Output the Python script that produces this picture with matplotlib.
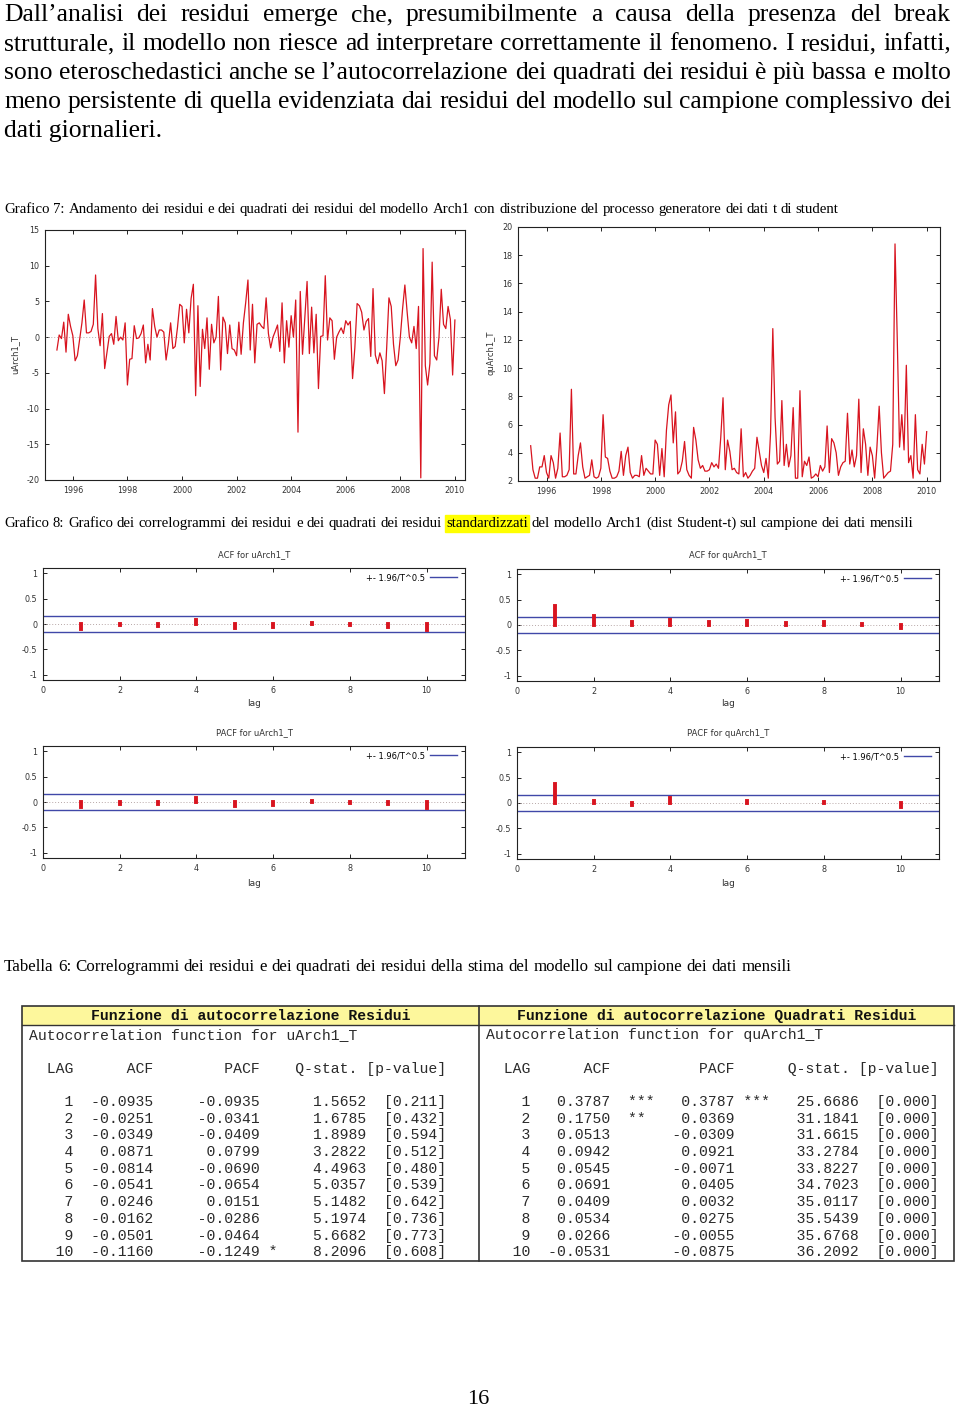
import numpy as np
import matplotlib
matplotlib.use("Agg")
import matplotlib.pyplot as plt
from matplotlib.patches import Rectangle

plt.rcParams["axes.unicode_minus"] = False

# ---- data ----
paragraph = [
    "Dall’analisi dei residui emerge che, presumibilmente a causa della presenza del break",
    "strutturale, il modello non riesce ad interpretare correttamente il fenomeno. I residui, infatti,",
    "sono eteroschedastici anche se l’autocorrelazione dei quadrati dei residui è più bassa e molto",
    "meno persistente di quella evidenziata dai residui del modello sul campione complessivo dei",
    "dati giornalieri.",
]
caption7 = ("Grafico 7: Andamento dei residui e dei quadrati dei residui del modello Arch1 con "
            "distribuzione del processo generatore dei dati t di student")
caption8 = ("Grafico 8: Grafico dei correlogrammi dei residui e dei quadrati dei residui standardizzati "
            "del modello Arch1 (dist Student-t) sul campione dei dati mensili")
caption_tab = ("Tabella 6: Correlogrammi dei residui e dei quadrati dei residui della stima del modello "
               "sul campione dei dati mensili")

# monthly residuals, first obs 1995:06
start_year = 1995 + 5 / 12
u_arch = [
    -1.8, 0.3, -0.2, 2.1, -2.1, 3.2, 1.5, 0.2, -3.3, -2.6, -0.3, 2.0,
    5.2, 0.6, 0.6, 0.8, 1.8, 8.7, 1.2, -1.2, 3.3, -4.4, -2.2, 0.1,
    0.5, -1.0, 2.9, -0.5, 0.0, -0.4, 2.0, -6.7, -3.1, -3.0, 1.6, -0.2,
    -0.1, 0.5, 1.7, -3.6, -1.0, -3.2, 4.0, 1.5, 0.0, 1.0, 1.0, 0.7,
    -3.2, -1.0, 2.0, -1.6, -1.3, 1.3, 4.6, 4.3, -0.8, 3.9, 0.6, 5.4,
    7.4, -8.2, 4.4, -6.9, 1.1, -1.6, 2.7, -4.5, 1.8, -0.8, 0.0, 5.7,
    -4.6, 2.8, 2.0, -2.3, 1.7, -1.6, -1.8, -2.6, 2.1, -2.4, 2.0, 4.8,
    8.0, -1.8, 4.6, -3.6, 1.8, 2.0, 1.5, 1.2, 5.5, 0.5, -1.5, 0.0,
    0.8, 1.7, -2.0, 4.8, -3.6, 2.3, -1.4, 3.0, 0.0, 5.2, -13.3, 6.4,
    -2.4, 2.7, 7.8, -2.3, 4.2, -2.2, 3.2, -7.2, 0.1, 0.2, 8.6, -0.4,
    2.7, 2.3, -3.1, 0.0, 0.7, 1.3, 0.5, 2.3, 1.7, 2.2, -5.8, -1.5,
    4.7, 4.4, 3.5, 1.0, 2.2, 2.6, -2.7, 6.8, -2.5, -3.7, -2.2, -3.3,
    -7.9, -1.5, 5.5, 4.3, -1.0, -4.0, -3.2, 0.0, 4.0, 7.3, 3.5, 0.0,
    -0.8, 1.5, -1.6, 4.3, -19.7, 12.4, -4.0, -6.7, -3.7, 10.5, -2.6, -3.2,
    0.0, 6.7, 1.8, 1.2, 4.3, 2.5, -5.3, 2.4,
]
qu_arch = [
    4.5, 2.8, 2.2, 2.2, 3.0, 3.0, 3.8, 2.6, 2.2, 3.8, 3.3, 2.2,
    2.9, 5.4, 2.3, 2.3, 2.4, 2.8, 8.5, 2.5, 2.5, 3.8, 4.7, 3.0,
    2.2, 2.3, 2.4, 3.5, 2.3, 2.2, 2.3, 2.9, 6.7, 3.7, 3.6, 2.7,
    2.2, 2.2, 2.3, 2.7, 4.1, 2.4, 3.8, 4.4, 2.6, 2.2, 2.4, 2.4,
    2.3, 3.8, 2.4, 2.9, 2.7, 2.5, 2.5, 4.9, 4.6, 2.4, 4.3, 2.3,
    5.6, 7.4, 8.1, 4.7, 6.9, 2.5, 2.7, 3.4, 4.8, 2.8, 2.4, 2.2,
    5.8, 4.9, 3.5, 2.9, 3.1, 2.7, 2.7, 2.8, 3.3, 3.0, 3.2, 2.9,
    5.1, 7.9, 2.8, 4.9, 4.1, 2.8, 2.9, 2.6, 2.5, 5.7, 2.3, 2.6,
    2.2, 2.4, 2.7, 2.9, 5.1, 4.1, 3.1, 2.6, 3.6, 2.2, 5.4, 12.8,
    6.5, 3.2, 3.4, 7.7, 3.1, 4.6, 3.0, 3.8, 7.2, 2.2, 2.2, 8.4,
    2.3, 3.4, 3.1, 3.7, 2.2, 2.3, 2.5, 2.3, 3.1, 2.7, 3.0, 5.9,
    2.6, 5.0, 4.7, 4.0, 2.4, 3.0, 3.3, 3.4, 6.8, 3.2, 4.2, 3.0,
    3.8, 7.8, 2.6, 5.7, 4.6, 2.4, 4.4, 3.8, 2.2, 4.4, 7.3, 4.0,
    2.2, 2.4, 2.6, 2.7, 4.6, 18.8, 12.0, 4.4, 6.7, 4.2, 10.2, 3.3,
    3.8, 2.2, 6.7, 2.8, 2.5, 4.6, 3.2, 5.5,
]
T_OBS = 176

lags = list(range(1, 11))
acf_u = [-0.0935, -0.0251, -0.0349, 0.0871, -0.0814, -0.0541, 0.0246, -0.0162, -0.0501, -0.1160]
pacf_u = [-0.0935, -0.0341, -0.0409, 0.0799, -0.0690, -0.0654, 0.0151, -0.0286, -0.0464, -0.1249]
qstat_u = [1.5652, 1.6785, 1.8989, 3.2822, 4.4963, 5.0357, 5.1482, 5.1974, 5.6682, 8.2096]
pval_u = [0.211, 0.432, 0.594, 0.512, 0.480, 0.539, 0.642, 0.736, 0.773, 0.608]
stars_acf_u = [""] * 10
stars_pacf_u = ["", "", "", "", "", "", "", "", "", "*"]

acf_q = [0.3787, 0.1750, 0.0513, 0.0942, 0.0545, 0.0691, 0.0409, 0.0534, 0.0266, -0.0531]
pacf_q = [0.3787, 0.0369, -0.0309, 0.0921, -0.0071, 0.0405, 0.0032, 0.0275, -0.0055, -0.0875]
qstat_q = [25.6686, 31.1841, 31.6615, 33.2784, 33.8227, 34.7023, 35.0117, 35.5439, 35.6768, 36.2092]
pval_q = [0.000, 0.000, 0.000, 0.000, 0.000, 0.000, 0.000, 0.000, 0.000, 0.000]
stars_acf_q = ["***", "**", "", "", "", "", "", "", "", ""]
stars_pacf_q = ["***", "", "", "", "", "", "", "", "", ""]

RED = "#d8141f"
BLUE = "#4048a8"
W, H = 960, 1409

fig = plt.figure(figsize=(W / 100, H / 100), dpi=100)
page = fig.add_axes([0, 0, 1, 1])
page.set_xlim(0, W)
page.set_ylim(H, 0)
page.axis("off")
renderer = fig.canvas.get_renderer()

SERIF = "Liberation Serif"
MONO = "Liberation Mono"
SANS = "DejaVu Sans"


def width_of(s, **kw):
    t = page.text(0, 0, s, **kw)
    w = t.get_window_extent(renderer).width
    t.remove()
    return w


def fit_size(s, target, family=SERIF):
    return 10 * target / width_of(s, fontsize=10, family=family)


def place_words(words, y, x0, x1=None, highlight=(), **kw):
    ws = [width_of(w, **kw) for w in words]
    if x1 is None:
        gap = width_of("a a", **kw) - width_of("aa", **kw)
    else:
        gap = (x1 - x0 - sum(ws)) / (len(words) - 1)
    x = x0
    for w, wd in zip(words, ws):
        if w in highlight:
            page.add_patch(Rectangle((x - 1, y - 12), wd + 2, 17, color="#ffff00", zorder=0))
        page.text(x, y, w, va="baseline", **kw)
        x += wd + gap


# ---- paragraph ----
p_size = fit_size(paragraph[-1], 158)
for i, line in enumerate(paragraph):
    y = 21 + 29 * i
    if i < len(paragraph) - 1:
        place_words(line.split(), y, 4, 951, fontsize=p_size, family=SERIF)
    else:
        page.text(4, y, line, va="baseline", fontsize=p_size, family=SERIF)

# ---- captions ----
c7 = fit_size(caption7, 831)
place_words(caption7.split(), 213, 4, fontsize=c7, family=SERIF)
c8 = fit_size(caption8, 909)
place_words(caption8.split(), 527, 4, highlight=("standardizzati",), fontsize=c8, family=SERIF)
ct = fit_size(caption_tab, 785)
place_words(caption_tab.split(), 971, 4, fontsize=ct, family=SERIF)
page.text(478, 1399, "16", ha="center", va="center", fontsize=16, family=SERIF)


def px_axes(x0, y0, x1, y1):
    return fig.add_axes([x0 / W, 1 - y1 / H, (x1 - x0) / W, (y1 - y0) / H])


def style(ax):
    ax.tick_params(direction="in", top=True, right=True, length=3, width=0.6,
                   labelsize=5.8, labelcolor="#333333", pad=4)
    for s in ax.spines.values():
        s.set_linewidth(0.8)
        s.set_color("#222222")
    for lab in ax.get_xticklabels() + ax.get_yticklabels():
        lab.set_family(SANS)


# ---- time series ----
x_month = start_year + np.arange(len(u_arch)) / 12

ax = px_axes(45, 230, 465, 480)
ax.axhline(0, color="#b8b0b0", ls=(0, (1, 2)), lw=0.7)
ax.plot(x_month, u_arch, color=RED, lw=0.9)
ax.set_xlim(1994.98, 2010.37)
ax.set_ylim(-20, 15)
ax.set_xticks(range(1996, 2011, 2))
ax.set_yticks(range(-20, 16, 5))
style(ax)
page.text(15, 355, "uArch1_T", rotation=90, ha="center", va="center", fontsize=6, family=SANS, color="#333333")

ax = px_axes(518, 227, 940, 481)
ax.plot(x_month, qu_arch, color=RED, lw=0.9)
ax.set_xlim(1994.95, 2010.49)
ax.set_ylim(2, 20)
ax.set_xticks(range(1996, 2011, 2))
ax.set_yticks(range(2, 21, 2))
style(ax)
page.text(491, 353, "quArch1_T", rotation=90, ha="center", va="center", fontsize=6, family=SANS, color="#333333")


# ---- correlograms ----
def corr_panel(box, title, vals, title_y, lag_y):
    ax = px_axes(*box)
    band = 1.96 / np.sqrt(T_OBS)
    ax.axhline(0, color="#b8a8a8", ls=(0, (1, 2)), lw=0.7)
    ln = ax.axhline(band, color=BLUE, lw=1.0)
    ax.axhline(-band, color=BLUE, lw=1.0)
    ax.vlines(lags, 0, vals, color=RED, lw=2.8, capstyle="projecting")
    ax.set_xlim(0, 11)
    ax.set_ylim(-1.1, 1.1)
    ax.set_xticks(range(0, 11, 2))
    ax.set_yticks([-1, -0.5, 0, 0.5, 1])
    ax.set_yticklabels(["-1", "-0.5", "0", "0.5", "1"])
    style(ax)
    ax.legend([ln], ["+- 1.96/T^0.5"], loc="upper right", bbox_to_anchor=(0.99, 0.99),
              frameon=False, markerfirst=False, handlelength=3.2,
              handletextpad=0.6, borderaxespad=0.1, prop={"family": SANS, "size": 6})
    xc = (box[0] + box[2]) / 2
    page.text(xc, title_y, title, ha="center", va="center", fontsize=6, family=SANS, color="#333333")
    page.text(xc, lag_y, "lag", ha="center", va="center", fontsize=6.5, family=SANS, color="#333333")


corr_panel((43, 568, 465, 680), "ACF for uArch1_T", acf_u, 555, 703)
corr_panel((517, 569, 939, 681), "ACF for quArch1_T", acf_q, 555, 703)
corr_panel((43, 746, 465, 858), "PACF for uArch1_T", pacf_u, 733, 883)
corr_panel((517, 747, 939, 859), "PACF for quArch1_T", pacf_q, 733, 883)

# ---- table ----
page.add_patch(Rectangle((22, 1006), 932, 19, facecolor="#fdf79c", edgecolor="none", zorder=0))
page.add_patch(Rectangle((22, 1006), 932, 255, fill=False, edgecolor="#333333", lw=1.2))
page.plot([479, 479], [1006, 1261], color="#333333", lw=1.2)
page.plot([22, 954], [1025, 1025], color="#333333", lw=1.0)

mono = dict(family=MONO, fontsize=10.6, va="center")
page.text(250.5, 1016, "Funzione di autocorrelazione Residui", ha="center",
          weight="bold", color="#111111", **mono)
page.text(716.5, 1016, "Funzione di autocorrelazione Quadrati Residui", ha="center",
          weight="bold", color="#111111", **mono)

body = dict(color="#2a2a2a", **mono)
page.text(29, 1035, "Autocorrelation function for uArch1_T", **body)
page.text(486, 1035, "Autocorrelation function for quArch1_T", **body)
page.text(29, 1069, "  LAG" + " " * 6 + "ACF" + " " * 8 + "PACF" + " " * 4 + "Q-stat. [p-value]", **body)
page.text(486, 1069, "  LAG" + " " * 6 + "ACF" + " " * 10 + "PACF" + " " * 6 + "Q-stat. [p-value]", **body)

for k, lag in enumerate(lags):
    y = 1102 + 16.7 * k
    left = (f"{lag:5d}{acf_u[k]:9.4f} {stars_acf_u[k]:<3s}{pacf_u[k]:8.4f} "
            f"{stars_pacf_u[k]:<3s}{qstat_u[k]:8.4f}  [{pval_u[k]:5.3f}]")
    right = (f"{lag:5d}{acf_q[k]:9.4f}  {stars_acf_q[k]:<3s} {pacf_q[k]:8.4f} "
             f"{stars_pacf_q[k]:<3s}{qstat_q[k]:10.4f}  [{pval_q[k]:5.3f}]")
    page.text(29, y, left, **body)
    page.text(486, y, right, **body)

fig.savefig("out.png", dpi=100)
